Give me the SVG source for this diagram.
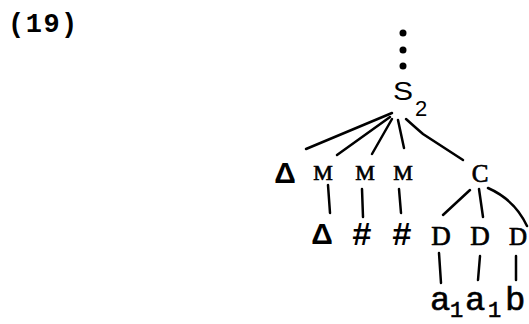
<svg xmlns="http://www.w3.org/2000/svg" width="529" height="324" viewBox="0 0 529 324">
<style>
text{fill:#000;font-family:"Liberation Mono",monospace}
.tw{font-family:"Liberation Serif","Times New Roman",serif;stroke:#000;stroke-width:0.7}
.heavy{stroke:#000;stroke-width:0.6}
.sans{font-family:"Liberation Sans",Arial,sans-serif}
.wide{transform-box:fill-box;transform-origin:center;transform:scaleX(1.2)}
.tri{font-family:"Liberation Sans",Arial,sans-serif;font-weight:bold;font-size:30px}
#edges line,#edges path{stroke:#000;stroke-width:2.5;stroke-linecap:round;fill:none}
</style>
<rect width="529" height="324" fill="#fff"/>
<text x="8" y="32" font-size="27" font-weight="bold" letter-spacing="1.5">(19)</text>
<g id="dots"><circle cx="403" cy="33" r="3.5"/><circle cx="403" cy="50" r="3.5"/><circle cx="403" cy="66" r="3.5"/></g>
<g id="edges">
<line x1="392" y1="113" x2="306" y2="149"/>
<line x1="390" y1="117" x2="337" y2="155"/>
<line x1="392" y1="119" x2="372" y2="154"/>
<line x1="398" y1="120" x2="404" y2="148"/>
<path d="M406,119 Q416,128 423,134 L463,160"/>
<line x1="328" y1="185" x2="330" y2="213"/>
<line x1="362" y1="189" x2="363" y2="217"/>
<line x1="399" y1="189" x2="401" y2="213"/>
<line x1="470" y1="190" x2="443" y2="215"/>
<line x1="479" y1="189" x2="483" y2="217"/>
<path d="M488,188 Q515,200 527,226"/>
<line x1="439" y1="253" x2="441" y2="283"/>
<line x1="480" y1="256" x2="478" y2="280"/>
<line x1="516" y1="256" x2="516" y2="280"/>
</g>
<g id="S2"><text class="sans wide" x="403" y="100" font-size="25" text-anchor="middle">S</text><text class="sans" x="415" y="116" font-size="22">2</text></g>
<g id="delta1"><text class="tri" x="285" y="183" text-anchor="middle">Δ</text></g>
<g id="M1"><text class="tw" x="323" y="180" font-size="22" text-anchor="middle">M</text></g>
<g id="M2"><text class="tw" x="365" y="180" font-size="22" text-anchor="middle">M</text></g>
<g id="M3"><text class="tw" x="403" y="180" font-size="22" text-anchor="middle">M</text></g>
<g id="C"><text class="tw" x="480" y="182" font-size="25" text-anchor="middle">C</text></g>
<g id="delta2"><text class="tri" x="322" y="244" text-anchor="middle">Δ</text></g>
<g id="hash1"><text x="362" y="245" font-size="33" font-weight="bold" text-anchor="middle">#</text></g>
<g id="hash2"><text x="402" y="245" font-size="33" font-weight="bold" text-anchor="middle">#</text></g>
<g id="D1"><text class="tw" x="441" y="245" font-size="27" text-anchor="middle">D</text></g>
<g id="D2"><text class="tw" x="480" y="245" font-size="27" text-anchor="middle">D</text></g>
<g id="D3"><text class="tw" x="518" y="245" font-size="25" text-anchor="middle">D</text></g>
<g id="a1"><text class="heavy" x="430" y="310" font-size="34">a</text><text class="heavy" x="450" y="317" font-size="22">1</text></g>
<g id="a1b"><text class="heavy" x="465" y="310" font-size="34">a</text><text class="heavy" x="488" y="317" font-size="22">1</text></g>
<g id="b"><text class="heavy" x="505" y="310" font-size="34">b</text></g>
</svg>
